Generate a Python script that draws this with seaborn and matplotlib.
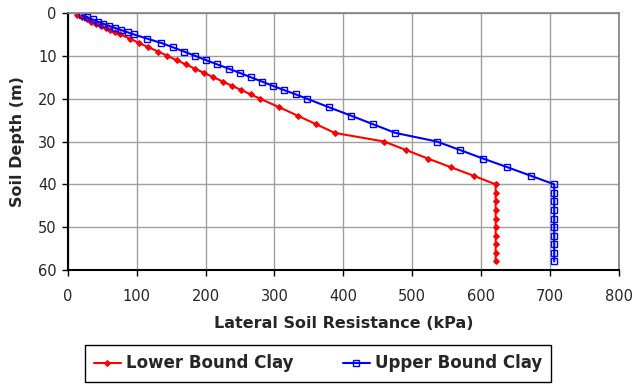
import numpy as np
import pandas as pd
import matplotlib
matplotlib.use("Agg")
import matplotlib.pyplot as plt
import seaborn as sns

# depths (m) shared by both curves
depth = [0.5, 1, 1.5, 2, 2.5, 3, 3.5, 4, 4.5, 5,
         6, 7, 8, 9, 10, 11, 12, 13, 14, 15, 16, 17, 18, 19, 20,
         22, 24, 26, 28, 30, 32, 34, 36, 38, 40,
         42, 44, 46, 48, 50, 52, 54, 56, 58]

# lateral soil resistance (kPa)
lower_clay = [14, 20.5, 27.5, 34.5, 41, 48, 55.5, 61.5, 68.5, 76,
              90.5, 103.5, 117, 131.5, 144.5, 158, 171.5, 184.5, 198, 211.5,
              225, 238.5, 252, 265.5, 279,
              307, 334, 361, 387.5, 459, 491, 523, 556, 589, 621,
              621, 621, 621, 621, 621, 621, 621, 621, 621]
upper_clay = [21, 28.5, 36, 43.5, 51.5, 60, 69, 78, 87, 96,
              115.5, 136, 152.5, 168.8, 184.8, 200.7, 217, 233.7, 250, 265.6,
              282, 297.5, 314, 331, 347,
              379, 411.6, 443.6, 475.5, 535.6, 569.4, 603, 638, 672, 706,
              706, 706, 706, 706, 706, 706, 706, 706, 706]

lower_df = pd.DataFrame({"Depth": depth, "Resistance": lower_clay})
upper_df = pd.DataFrame({"Depth": depth, "Resistance": upper_clay})

sns.set_style("white")
plt.rcParams["font.family"] = ["DejaVu Sans"]

fig = plt.figure(figsize=(6.33, 3.85), dpi=100)
ax = fig.add_axes([67.7 / 633, 1 - 270 / 385, (619 - 67.7) / 633, (270 - 13) / 385])

# draw each curve in its own call, keeping the depth order
sns.lineplot(data=lower_df, x="Resistance", y="Depth", estimator=None, sort=False,
             orient="y", color="#ff0000", linestyle="-", linewidth=1.5,
             marker="D", markersize=3, markerfacecolor="#ff0000",
             markeredgecolor="#ff0000", label="Lower Bound Clay", ax=ax)
sns.lineplot(data=upper_df, x="Resistance", y="Depth", estimator=None, sort=False,
             orient="y", color="#0000ff", linestyle="-", linewidth=1.5,
             marker="s", markersize=4, markerfacecolor="none",
             markeredgecolor="#0000ff", markeredgewidth=1,
             label="Upper Bound Clay", ax=ax)

ax.set_xlim(0, 800)
ax.set_ylim(60, 0)
ax.set_xticks(np.arange(0, 801, 100))
ax.set_yticks(np.arange(0, 61, 10))
ax.grid(True, color="#a0a0a0", linewidth=1)
ax.tick_params(axis="both", direction="out", length=4, width=1, color="black",
               labelsize=10.5, bottom=True, left=True)
ax.tick_params(axis="x", pad=10)
ax.tick_params(axis="y", pad=4)
for side in ["left", "bottom"]:
    ax.spines[side].set_color("black")
    ax.spines[side].set_linewidth(1.5)
for side in ["top", "right"]:
    ax.spines[side].set_color("#808080")
    ax.spines[side].set_linewidth(1.2)

ax.set_xlabel("Lateral Soil Resistance (kPa)", fontsize=11.5, fontweight="bold", labelpad=8)
ax.set_ylabel("Soil Depth (m)", fontsize=11.5, fontweight="bold", labelpad=9)

handles, labels = ax.get_legend_handles_labels()
ax.get_legend().remove()
leg = fig.legend(handles, labels, loc="center", bbox_to_anchor=(318 / 633, 1 - 363.5 / 385),
                 ncol=2, frameon=True, fancybox=False, edgecolor="black",
                 framealpha=1, prop={"weight": "bold", "size": 12},
                 handlelength=1.6, handletextpad=0.3, columnspacing=3.0,
                 borderpad=0.55, borderaxespad=0)
leg.get_frame().set_linewidth(1)

fig.savefig("out.png", dpi=100)
